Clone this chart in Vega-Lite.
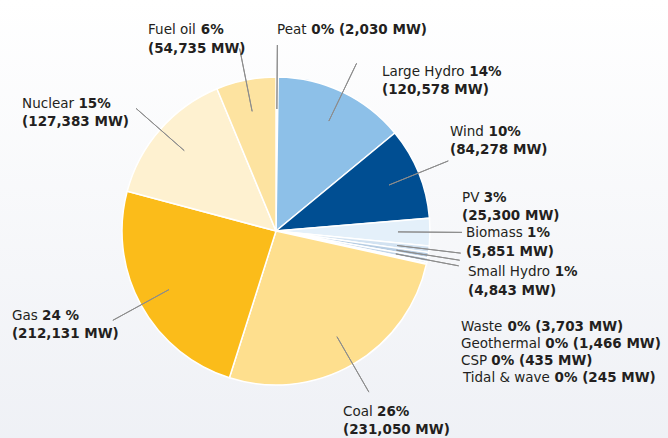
{
  "$schema": "https://vega.github.io/schema/vega-lite/v6.json",
  "autosize": {"type": "none"},
  "width": 784,
  "height": 462,
  "padding": {"left": -116, "top": 0, "right": 0, "bottom": -24},
  "background": "#ffffff",
  "config": {"view": {"stroke": null}},
  "data": {
    "values": [
      {"idx": 1, "source": "Peat", "mw": 2030, "pct": "0%", "mwLabel": "(2,030 MW)"},
      {"idx": 2, "source": "Large Hydro", "mw": 120578, "pct": "14%", "mwLabel": "(120,578 MW)"},
      {"idx": 3, "source": "Wind", "mw": 84278, "pct": "10%", "mwLabel": "(84,278 MW)"},
      {"idx": 4, "source": "PV", "mw": 25300, "pct": "3%", "mwLabel": "(25,300 MW)"},
      {"idx": 5, "source": "Biomass", "mw": 5851, "pct": "1%", "mwLabel": "(5,851 MW)"},
      {"idx": 6, "source": "Small Hydro", "mw": 4843, "pct": "1%", "mwLabel": "(4,843 MW)"},
      {"idx": 7, "source": "Waste", "mw": 3703, "pct": "0%", "mwLabel": "(3,703 MW)"},
      {"idx": 8, "source": "Geothermal", "mw": 1466, "pct": "0%", "mwLabel": "(1,466 MW)"},
      {"idx": 9, "source": "CSP", "mw": 435, "pct": "0%", "mwLabel": "(435 MW)"},
      {"idx": 10, "source": "Tidal & wave", "mw": 245, "pct": "0%", "mwLabel": "(245 MW)"},
      {"idx": 11, "source": "Coal", "mw": 231050, "pct": "26%", "mwLabel": "(231,050 MW)"},
      {"idx": 12, "source": "Gas", "mw": 212131, "pct": "24 %", "mwLabel": "(212,131 MW)"},
      {"idx": 13, "source": "Nuclear", "mw": 127383, "pct": "15%", "mwLabel": "(127,383 MW)"},
      {"idx": 14, "source": "Fuel oil", "mw": 54735, "pct": "6%", "mwLabel": "(54,735 MW)"}
    ]
  },
  "layer": [
    {
      "mark": {"type": "rect", "fill": {"gradient": "linear", "x1": 0, "y1": 0, "x2": 0, "y2": 1, "stops": [{"offset": 0, "color": "#ffffff"}, {"offset": 1, "color": "#eef0f5"}]}},
      "encoding": {}
    },
    {
      "encoding": {
        "theta": {"field": "mw", "type": "quantitative", "stack": true},
        "order": {"field": "idx", "type": "quantitative"}
      },
      "layer": [
        {
          "mark": {"type": "arc", "outerRadius": 154, "stroke": "#ffffff", "strokeWidth": 1.5},
          "encoding": {
            "color": {"field": "source", "type": "nominal", "legend": null,
              "scale": {
                "domain": ["Peat", "Large Hydro", "Wind", "PV", "Biomass", "Small Hydro", "Waste", "Geothermal", "CSP", "Tidal & wave", "Coal", "Gas", "Nuclear", "Fuel oil"],
                "range": ["#f2f2f2", "#8dc0e8", "#004e92", "#e4f0fa", "#d2e2f1", "#b7cde3", "#c3d5e8", "#aec6df", "#a3bdd9", "#98b6d5", "#fedf8e", "#fbbc1a", "#fef1d0", "#fde3a0"]
              }
            }
          }
        },
        {
          "mark": {"type": "arc", "innerRadius": 122, "outerRadius": 186, "padAngle": 3.1, "filled": false, "stroke": "#8c8c8c", "strokeWidth": 1},
          "encoding": {
            "strokeOpacity": {"condition": {"test": "datum.source === 'Geothermal' || datum.source === 'CSP' || datum.source === 'Tidal & wave'", "value": 0}, "value": 1}
          }
        },

        {"mark": {"type": "text", "radius": 190, "align": "left", "baseline": "alphabetic", "dx": -0.4, "dy": -7, "font": "DejaVu Sans", "fontSize": 13.5, "fontWeight": "normal", "fill": "#231f20"},
         "encoding": {"text": {"condition": {"test": "datum.source === 'Peat'", "field": "source"}, "value": ""}}},
        {"mark": {"type": "text", "radius": 190, "align": "left", "baseline": "alphabetic", "dx": 33.9, "dy": -7, "font": "DejaVu Sans", "fontSize": 13.5, "fontWeight": "bold", "fill": "#231f20"},
         "encoding": {"text": {"condition": {"test": "datum.source === 'Peat'", "field": "pct"}, "value": ""}}},
        {"mark": {"type": "text", "radius": 190, "align": "left", "baseline": "alphabetic", "dx": 61.5, "dy": -7, "font": "DejaVu Sans", "fontSize": 13.5, "fontWeight": "bold", "fill": "#231f20"},
         "encoding": {"text": {"condition": {"test": "datum.source === 'Peat'", "field": "mwLabel"}, "value": ""}}},

        {"mark": {"type": "text", "radius": 190, "align": "left", "baseline": "alphabetic", "dx": 23.7, "dy": 16.2, "font": "DejaVu Sans", "fontSize": 13.5, "fontWeight": "normal", "fill": "#231f20"},
         "encoding": {"text": {"condition": {"test": "datum.source === 'Large Hydro'", "field": "source"}, "value": ""}}},
        {"mark": {"type": "text", "radius": 190, "align": "left", "baseline": "alphabetic", "dx": 111, "dy": 16.2, "font": "DejaVu Sans", "fontSize": 13.5, "fontWeight": "bold", "fill": "#231f20"},
         "encoding": {"text": {"condition": {"test": "datum.source === 'Large Hydro'", "field": "pct"}, "value": ""}}},
        {"mark": {"type": "text", "radius": 190, "align": "left", "baseline": "alphabetic", "dx": 23.7, "dy": 34.2, "font": "DejaVu Sans", "fontSize": 13.5, "fontWeight": "bold", "fill": "#231f20"},
         "encoding": {"text": {"condition": {"test": "datum.source === 'Large Hydro'", "field": "mwLabel"}, "value": ""}}},

        {"mark": {"type": "text", "radius": 190, "align": "left", "baseline": "alphabetic", "dx": -2, "dy": -23.4, "font": "DejaVu Sans", "fontSize": 13.5, "fontWeight": "normal", "fill": "#231f20"},
         "encoding": {"text": {"condition": {"test": "datum.source === 'Wind'", "field": "source"}, "value": ""}}},
        {"mark": {"type": "text", "radius": 190, "align": "left", "baseline": "alphabetic", "dx": 36.5, "dy": -23.4, "font": "DejaVu Sans", "fontSize": 13.5, "fontWeight": "bold", "fill": "#231f20"},
         "encoding": {"text": {"condition": {"test": "datum.source === 'Wind'", "field": "pct"}, "value": ""}}},
        {"mark": {"type": "text", "radius": 190, "align": "left", "baseline": "alphabetic", "dx": -2, "dy": -5.4, "font": "DejaVu Sans", "fontSize": 13.5, "fontWeight": "bold", "fill": "#231f20"},
         "encoding": {"text": {"condition": {"test": "datum.source === 'Wind'", "field": "mwLabel"}, "value": ""}}},

        {"mark": {"type": "text", "radius": 190, "align": "left", "baseline": "alphabetic", "dx": -4, "dy": -30.4, "font": "DejaVu Sans", "fontSize": 13.5, "fontWeight": "normal", "fill": "#231f20"},
         "encoding": {"text": {"condition": {"test": "datum.source === 'PV'", "field": "source"}, "value": ""}}},
        {"mark": {"type": "text", "radius": 190, "align": "left", "baseline": "alphabetic", "dx": 17.7, "dy": -30.4, "font": "DejaVu Sans", "fontSize": 13.5, "fontWeight": "bold", "fill": "#231f20"},
         "encoding": {"text": {"condition": {"test": "datum.source === 'PV'", "field": "pct"}, "value": ""}}},
        {"mark": {"type": "text", "radius": 190, "align": "left", "baseline": "alphabetic", "dx": -4, "dy": -12.4, "font": "DejaVu Sans", "fontSize": 13.5, "fontWeight": "bold", "fill": "#231f20"},
         "encoding": {"text": {"condition": {"test": "datum.source === 'PV'", "field": "mwLabel"}, "value": ""}}},

        {"mark": {"type": "text", "radius": 190, "align": "left", "baseline": "alphabetic", "dx": 1.3, "dy": -16.6, "font": "DejaVu Sans", "fontSize": 13.5, "fontWeight": "normal", "fill": "#231f20"},
         "encoding": {"text": {"condition": {"test": "datum.source === 'Biomass'", "field": "source"}, "value": ""}}},
        {"mark": {"type": "text", "radius": 190, "align": "left", "baseline": "alphabetic", "dx": 62.4, "dy": -16.6, "font": "DejaVu Sans", "fontSize": 13.5, "fontWeight": "bold", "fill": "#231f20"},
         "encoding": {"text": {"condition": {"test": "datum.source === 'Biomass'", "field": "pct"}, "value": ""}}},
        {"mark": {"type": "text", "radius": 190, "align": "left", "baseline": "alphabetic", "dx": 1.3, "dy": 2.4, "font": "DejaVu Sans", "fontSize": 13.5, "fontWeight": "bold", "fill": "#231f20"},
         "encoding": {"text": {"condition": {"test": "datum.source === 'Biomass'", "field": "mwLabel"}, "value": ""}}},

        {"mark": {"type": "text", "radius": 190, "align": "left", "baseline": "alphabetic", "dx": 4.4, "dy": 15.1, "font": "DejaVu Sans", "fontSize": 13.5, "fontWeight": "normal", "fill": "#231f20"},
         "encoding": {"text": {"condition": {"test": "datum.source === 'Small Hydro'", "field": "source"}, "value": ""}}},
        {"mark": {"type": "text", "radius": 190, "align": "left", "baseline": "alphabetic", "dx": 91, "dy": 15.1, "font": "DejaVu Sans", "fontSize": 13.5, "fontWeight": "bold", "fill": "#231f20"},
         "encoding": {"text": {"condition": {"test": "datum.source === 'Small Hydro'", "field": "pct"}, "value": ""}}},
        {"mark": {"type": "text", "radius": 190, "align": "left", "baseline": "alphabetic", "dx": 4.4, "dy": 34.1, "font": "DejaVu Sans", "fontSize": 13.5, "fontWeight": "bold", "fill": "#231f20"},
         "encoding": {"text": {"condition": {"test": "datum.source === 'Small Hydro'", "field": "mwLabel"}, "value": ""}}},

        {"mark": {"type": "text", "radius": 190, "align": "left", "baseline": "alphabetic", "dx": -1.6, "dy": 64.4, "font": "DejaVu Sans", "fontSize": 13.5, "fontWeight": "normal", "fill": "#231f20"},
         "encoding": {"text": {"condition": {"test": "datum.source === 'Waste'", "field": "source"}, "value": ""}}},
        {"mark": {"type": "text", "radius": 190, "align": "left", "baseline": "alphabetic", "dx": 44.9, "dy": 64.4, "font": "DejaVu Sans", "fontSize": 13.5, "fontWeight": "bold", "fill": "#231f20"},
         "encoding": {"text": {"condition": {"test": "datum.source === 'Waste'", "field": "pct"}, "value": ""}}},
        {"mark": {"type": "text", "radius": 190, "align": "left", "baseline": "alphabetic", "dx": 72.5, "dy": 64.4, "font": "DejaVu Sans", "fontSize": 13.5, "fontWeight": "bold", "fill": "#231f20"},
         "encoding": {"text": {"condition": {"test": "datum.source === 'Waste'", "field": "mwLabel"}, "value": ""}}},

        {"mark": {"type": "text", "radius": 190, "align": "left", "baseline": "alphabetic", "dx": -0.9, "dy": 77.9, "font": "DejaVu Sans", "fontSize": 13.5, "fontWeight": "normal", "fill": "#231f20"},
         "encoding": {"text": {"condition": {"test": "datum.source === 'Geothermal'", "field": "source"}, "value": ""}}},
        {"mark": {"type": "text", "radius": 190, "align": "left", "baseline": "alphabetic", "dx": 83.3, "dy": 77.9, "font": "DejaVu Sans", "fontSize": 13.5, "fontWeight": "bold", "fill": "#231f20"},
         "encoding": {"text": {"condition": {"test": "datum.source === 'Geothermal'", "field": "pct"}, "value": ""}}},
        {"mark": {"type": "text", "radius": 190, "align": "left", "baseline": "alphabetic", "dx": 110.9, "dy": 77.9, "font": "DejaVu Sans", "fontSize": 13.5, "fontWeight": "bold", "fill": "#231f20"},
         "encoding": {"text": {"condition": {"test": "datum.source === 'Geothermal'", "field": "mwLabel"}, "value": ""}}},

        {"mark": {"type": "text", "radius": 190, "align": "left", "baseline": "alphabetic", "dx": -0.7, "dy": 93.7, "font": "DejaVu Sans", "fontSize": 13.5, "fontWeight": "normal", "fill": "#231f20"},
         "encoding": {"text": {"condition": {"test": "datum.source === 'CSP'", "field": "source"}, "value": ""}}},
        {"mark": {"type": "text", "radius": 190, "align": "left", "baseline": "alphabetic", "dx": 29.7, "dy": 93.7, "font": "DejaVu Sans", "fontSize": 13.5, "fontWeight": "bold", "fill": "#231f20"},
         "encoding": {"text": {"condition": {"test": "datum.source === 'CSP'", "field": "pct"}, "value": ""}}},
        {"mark": {"type": "text", "radius": 190, "align": "left", "baseline": "alphabetic", "dx": 57.3, "dy": 93.7, "font": "DejaVu Sans", "fontSize": 13.5, "fontWeight": "bold", "fill": "#231f20"},
         "encoding": {"text": {"condition": {"test": "datum.source === 'CSP'", "field": "mwLabel"}, "value": ""}}},

        {"mark": {"type": "text", "radius": 190, "align": "left", "baseline": "alphabetic", "dx": 1.4, "dy": 110.2, "font": "DejaVu Sans", "fontSize": 13.5, "fontWeight": "normal", "fill": "#231f20"},
         "encoding": {"text": {"condition": {"test": "datum.source === 'Tidal & wave'", "field": "source"}, "value": ""}}},
        {"mark": {"type": "text", "radius": 190, "align": "left", "baseline": "alphabetic", "dx": 93, "dy": 110.2, "font": "DejaVu Sans", "fontSize": 13.5, "fontWeight": "bold", "fill": "#231f20"},
         "encoding": {"text": {"condition": {"test": "datum.source === 'Tidal & wave'", "field": "pct"}, "value": ""}}},
        {"mark": {"type": "text", "radius": 190, "align": "left", "baseline": "alphabetic", "dx": 120.6, "dy": 110.2, "font": "DejaVu Sans", "fontSize": 13.5, "fontWeight": "bold", "fill": "#231f20"},
         "encoding": {"text": {"condition": {"test": "datum.source === 'Tidal & wave'", "field": "mwLabel"}, "value": ""}}},

        {"mark": {"type": "text", "radius": 190, "align": "left", "baseline": "alphabetic", "dx": -27.9, "dy": 20.4, "font": "DejaVu Sans", "fontSize": 13.5, "fontWeight": "normal", "fill": "#231f20"},
         "encoding": {"text": {"condition": {"test": "datum.source === 'Coal'", "field": "source"}, "value": ""}}},
        {"mark": {"type": "text", "radius": 190, "align": "left", "baseline": "alphabetic", "dx": 6.1, "dy": 20.4, "font": "DejaVu Sans", "fontSize": 13.5, "fontWeight": "bold", "fill": "#231f20"},
         "encoding": {"text": {"condition": {"test": "datum.source === 'Coal'", "field": "pct"}, "value": ""}}},
        {"mark": {"type": "text", "radius": 190, "align": "left", "baseline": "alphabetic", "dx": -27.9, "dy": 38.4, "font": "DejaVu Sans", "fontSize": 13.5, "fontWeight": "bold", "fill": "#231f20"},
         "encoding": {"text": {"condition": {"test": "datum.source === 'Coal'", "field": "mwLabel"}, "value": ""}}},

        {"mark": {"type": "text", "radius": 190, "align": "left", "baseline": "alphabetic", "dx": -97.4, "dy": -2.2, "font": "DejaVu Sans", "fontSize": 13.5, "fontWeight": "normal", "fill": "#231f20"},
         "encoding": {"text": {"condition": {"test": "datum.source === 'Gas'", "field": "source"}, "value": ""}}},
        {"mark": {"type": "text", "radius": 190, "align": "left", "baseline": "alphabetic", "dx": -67.3, "dy": -2.2, "font": "DejaVu Sans", "fontSize": 13.5, "fontWeight": "bold", "fill": "#231f20"},
         "encoding": {"text": {"condition": {"test": "datum.source === 'Gas'", "field": "pct"}, "value": ""}}},
        {"mark": {"type": "text", "radius": 190, "align": "left", "baseline": "alphabetic", "dx": -97.4, "dy": 15.8, "font": "DejaVu Sans", "fontSize": 13.5, "fontWeight": "bold", "fill": "#231f20"},
         "encoding": {"text": {"condition": {"test": "datum.source === 'Gas'", "field": "mwLabel"}, "value": ""}}},

        {"mark": {"type": "text", "radius": 190, "align": "left", "baseline": "alphabetic", "dx": -111, "dy": 2.2, "font": "DejaVu Sans", "fontSize": 13.5, "fontWeight": "normal", "fill": "#231f20"},
         "encoding": {"text": {"condition": {"test": "datum.source === 'Nuclear'", "field": "source"}, "value": ""}}},
        {"mark": {"type": "text", "radius": 190, "align": "left", "baseline": "alphabetic", "dx": -54.7, "dy": 2.2, "font": "DejaVu Sans", "fontSize": 13.5, "fontWeight": "bold", "fill": "#231f20"},
         "encoding": {"text": {"condition": {"test": "datum.source === 'Nuclear'", "field": "pct"}, "value": ""}}},
        {"mark": {"type": "text", "radius": 190, "align": "left", "baseline": "alphabetic", "dx": -111, "dy": 20.2, "font": "DejaVu Sans", "fontSize": 13.5, "fontWeight": "bold", "fill": "#231f20"},
         "encoding": {"text": {"condition": {"test": "datum.source === 'Nuclear'", "field": "mwLabel"}, "value": ""}}},

        {"mark": {"type": "text", "radius": 190, "align": "left", "baseline": "alphabetic", "dx": -90.8, "dy": -10.7, "font": "DejaVu Sans", "fontSize": 13.5, "fontWeight": "normal", "fill": "#231f20"},
         "encoding": {"text": {"condition": {"test": "datum.source === 'Fuel oil'", "field": "source"}, "value": ""}}},
        {"mark": {"type": "text", "radius": 190, "align": "left", "baseline": "alphabetic", "dx": -38.1, "dy": -10.7, "font": "DejaVu Sans", "fontSize": 13.5, "fontWeight": "bold", "fill": "#231f20"},
         "encoding": {"text": {"condition": {"test": "datum.source === 'Fuel oil'", "field": "pct"}, "value": ""}}},
        {"mark": {"type": "text", "radius": 190, "align": "left", "baseline": "alphabetic", "dx": -90.8, "dy": 8.3, "font": "DejaVu Sans", "fontSize": 13.5, "fontWeight": "bold", "fill": "#231f20"},
         "encoding": {"text": {"condition": {"test": "datum.source === 'Fuel oil'", "field": "mwLabel"}, "value": ""}}}
      ]
    }
  ]
}
